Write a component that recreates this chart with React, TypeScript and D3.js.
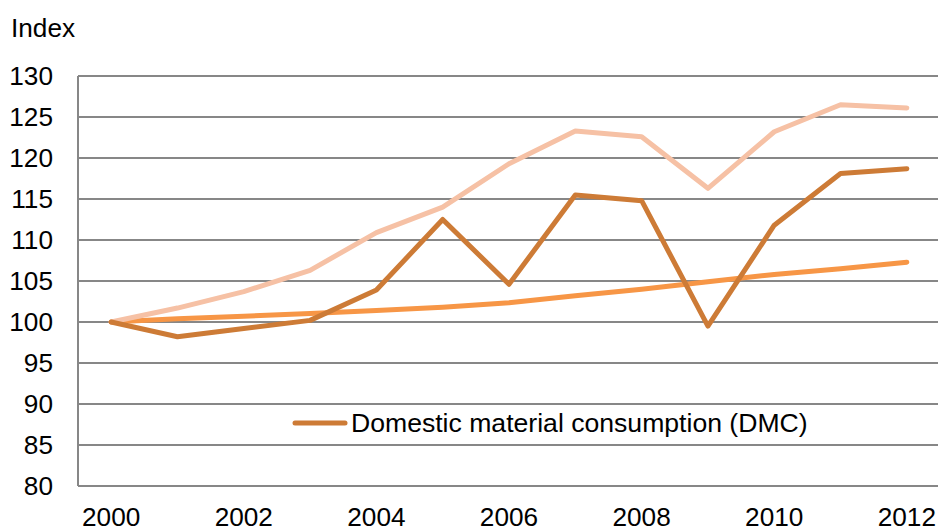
import React, { useEffect, useRef } from "react";
import * as d3 from "d3";

// years on the category axis
const years = [2000, 2001, 2002, 2003, 2004, 2005, 2006, 2007, 2008, 2009, 2010, 2011, 2012];
// index values (2000 = 100)
const paleSeries = [100, 101.7, 103.7, 106.3, 110.9, 114.0, 119.3, 123.3, 122.6, 116.3, 123.2, 126.5, 126.1];
const dmcSeries = [100, 98.2, 99.2, 100.2, 103.9, 112.5, 104.6, 115.5, 114.8, 99.5, 111.8, 118.1, 118.7];
const orangeSeries = [100, 100.4, 100.7, 101.05, 101.4, 101.8, 102.35, 103.2, 104.0, 104.9, 105.8, 106.5, 107.3];
const yTicks = [80, 85, 90, 95, 100, 105, 110, 115, 120, 125, 130];
const xTickYears = [2000, 2002, 2004, 2006, 2008, 2010, 2012];
const legendLabel = "Domestic material consumption (DMC)";

const W = 938;
const H = 529;

export default function App() {
  const ref = useRef<SVGSVGElement>(null);

  useEffect(() => {
    const svg = d3.select(ref.current);
    svg.selectAll("*").remove();

    const font = "'Liberation Sans', Arial, sans-serif";
    const fs = 26.2;
    const left = 78, right = 940, top = 76, bottom = 486;

    // category style x scale: half a year padding on both sides
    const x = d3.scaleLinear().domain([1999.5, 2012.5]).range([left, right]);
    const y = d3.scaleLinear().domain([80, 130]).range([bottom, top]);

    // gridlines
    svg.append("g")
      .selectAll("line")
      .data(yTicks)
      .join("line")
      .attr("x1", left)
      .attr("x2", right)
      .attr("y1", d => y(d))
      .attr("y2", d => y(d))
      .attr("stroke", "#878787")
      .attr("stroke-width", 2);

    // left axis line
    svg.append("line")
      .attr("x1", left).attr("x2", left)
      .attr("y1", y(130)).attr("y2", y(80))
      .attr("stroke", "#878787")
      .attr("stroke-width", 2);

    // y labels
    svg.append("g")
      .selectAll("text")
      .data(yTicks)
      .join("text")
      .attr("x", 53)
      .attr("y", d => y(d))
      .attr("dy", "0.35em")
      .attr("text-anchor", "end")
      .attr("font-family", font)
      .attr("font-size", fs)
      .attr("fill", "#000")
      .text(d => d);

    // x labels (bottom edge slightly clipped like the original)
    svg.append("g")
      .selectAll("text")
      .data(xTickYears)
      .join("text")
      .attr("x", d => x(d))
      .attr("y", 526)
      .attr("text-anchor", "middle")
      .attr("font-family", font)
      .attr("font-size", fs)
      .attr("fill", "#000")
      .text(d => d);

    svg.append("text")
      .attr("x", 11)
      .attr("y", 37)
      .attr("font-family", font)
      .attr("font-size", fs)
      .attr("fill", "#000")
      .text("Index");

    const line = d3.line<number>()
      .x((d, i) => x(years[i]))
      .y(d => y(d));

    const series = [
      { values: orangeSeries, color: "#F79646", width: 5 },
      { values: paleSeries, color: "#F6C1A5", width: 5 },
      { values: dmcSeries, color: "#CD7B36", width: 5 },
    ];

    svg.append("g")
      .selectAll("path")
      .data(series)
      .join("path")
      .attr("d", d => line(d.values))
      .attr("fill", "none")
      .attr("stroke", d => d.color)
      .attr("stroke-width", d => d.width)
      .attr("stroke-linejoin", "round")
      .attr("stroke-linecap", "round");

    // legend (only the DMC entry is visible)
    const lg = svg.append("g");
    lg.append("line")
      .attr("x1", 295).attr("x2", 345)
      .attr("y1", 423).attr("y2", 423)
      .attr("stroke", "#CD7B36")
      .attr("stroke-width", 5)
      .attr("stroke-linecap", "round");
    lg.append("text")
      .attr("x", 351)
      .attr("y", 423)
      .attr("dy", "0.35em")
      .attr("font-family", font)
      .attr("font-size", 26.6)
      .attr("fill", "#000")
      .text(legendLabel);
  }, []);

  return (
    <svg
      ref={ref}
      width={W}
      height={H}
      style={{ position: "absolute", left: 0, top: 0, background: "#fff" }}
    />
  );
}
